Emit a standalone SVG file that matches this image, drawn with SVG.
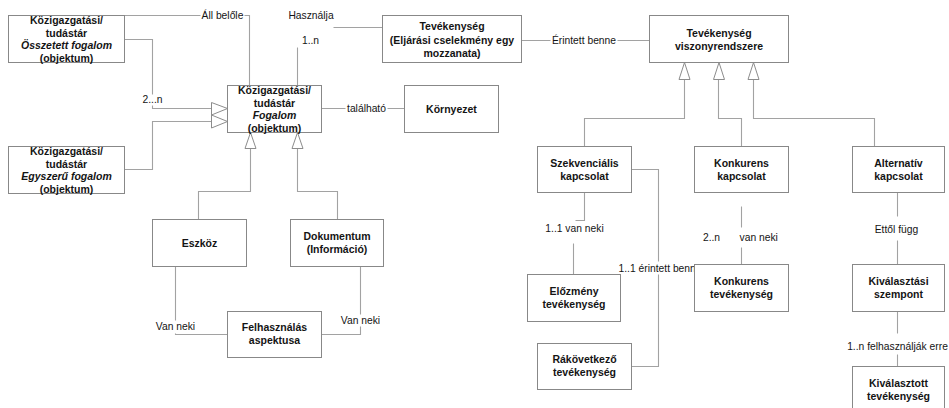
<svg xmlns="http://www.w3.org/2000/svg" width="949" height="408" viewBox="0 0 949 408">
  <defs>
    <style>
      .box { fill: #ffffff; stroke: #888888; stroke-width: 1; }
      .ln { fill: none; stroke: #a2a2a2; stroke-width: 1.1; }
      .tri { fill: #ffffff; stroke: #8c8c8c; stroke-width: 1; }
      .bg { fill: #ffffff; stroke: none; }
      text { font-family: "Liberation Sans", Arial, Helvetica, sans-serif; fill: #141414; }
      .nt { font-size: 10.5px; font-weight: bold; text-anchor: middle; }
      .it { font-style: italic; }
      .lb { font-size: 10.3px; text-anchor: middle; }
      .ls { font-size: 10.3px; text-anchor: start; }
    </style>
  </defs>
  <rect x="0" y="0" width="949" height="408" fill="#ffffff"/>
  <g transform="translate(0.5 0.5)">
    <!-- connectors -->
    <g id="connectors">
      <!-- composite concept consists of concepts -->
      <path class="ln" d="M124,15 H249 V85"/>
      <rect class="bg" x="200" y="9" width="44" height="13"/>
      <text class="lb" x="222" y="18.5">Áll belőle</text>

      <!-- generalisations into Fogalom (from the left) -->
      <path class="ln" d="M124,39 H152 V108 H211"/>
      <path class="ln" d="M124,169 H152 V121 H211"/>
      <polygon class="tri" points="211,102 227,108 211,114.5"/>
      <polygon class="tri" points="211,114.5 227,121 211,127.5"/>
      <rect class="bg" x="140" y="94" width="24" height="11"/>
      <text class="lb" x="152" y="102.5">2...n</text>

      <!-- Fogalom uses Tevékenység -->
      <path class="ln" d="M297,47 V85"/>
      <path class="ln" d="M333,27 H382"/>
      <text class="lb" x="310.5" y="18.5">Használja</text>
      <text class="lb" x="310" y="43.5">1..n</text>

      <!-- Fogalom located in Környezet -->
      <path class="ln" d="M321,108 H404"/>
      <rect class="bg" x="345" y="102" width="42" height="12"/>
      <text class="lb" x="366" y="111.5">található</text>

      <!-- Tevékenység related to its relation system -->
      <path class="ln" d="M521,40 H649"/>
      <rect class="bg" x="550" y="34" width="67" height="12"/>
      <text class="lb" x="583.5" y="43.5">Érintett benne</text>

      <!-- Eszköz / Dokumentum generalise Fogalom -->
      <path class="ln" d="M198,219 V191 H250 V148"/>
      <path class="ln" d="M337,219 V191 H297 V148"/>
      <polygon class="tri" points="250,132 255.5,148 244.5,148"/>
      <polygon class="tri" points="297,132 302.5,148 291.5,148"/>

      <!-- usage aspect -->
      <path class="ln" d="M175,266 V334 H227"/>
      <path class="ln" d="M360,266 V334 H321"/>
      <rect class="bg" x="153" y="320" width="44" height="13"/>
      <text class="lb" x="175" y="329.5">Van neki</text>
      <rect class="bg" x="338" y="314" width="44" height="12"/>
      <text class="lb" x="360" y="323.5">Van neki</text>

      <!-- relation kinds generalise the relation system -->
      <path class="ln" d="M584,146 V118 H684 V79"/>
      <path class="ln" d="M741,146 V118 H718 V79"/>
      <path class="ln" d="M874,146 V118 H753 V79"/>
      <polygon class="tri" points="684,62 689.5,79 678.5,79"/>
      <polygon class="tri" points="718.5,62 724,79 713,79"/>
      <polygon class="tri" points="753,62 758.5,79 747.5,79"/>

      <!-- sequential: predecessor -->
      <path class="ln" d="M584,192 V220 H575"/>
      <path class="ln" d="M573,243 V274"/>
      <text class="lb" x="574" y="231.5">1..1 van neki</text>

      <!-- sequential: successor -->
      <path class="ln" d="M631,169 H658 V366 H631"/>
      <rect class="bg" x="617" y="261" width="77" height="13"/>
      <text class="ls" x="618" y="271.5">1..1 érintett benn</text>

      <!-- concurrent activity -->
      <path class="ln" d="M741,206 V227"/>
      <path class="ln" d="M741,247 V264"/>
      <text class="lb" x="711" y="240.5">2..n</text>
      <text class="ls" x="739" y="240.5">van neki</text>

      <!-- alternative: selection criterion -->
      <path class="ln" d="M897,192 V216"/>
      <path class="ln" d="M897,240 V264"/>
      <text class="lb" x="896" y="232">Ettől függ</text>

      <!-- selection criterion: selected activity -->
      <path class="ln" d="M897,311 V333"/>
      <path class="ln" d="M897,354 V366"/>
      <text class="lb" x="897" y="349.5">1..n felhasználják erre</text>
    </g>

    <!-- nodes -->
    <g id="osszetett-fogalom">
      <rect class="box" x="8" y="15" width="116" height="47"/>
      <text class="nt" x="66" y="23.5">Közigazgatási/</text>
      <text class="nt" x="66" y="36">tudástár</text>
      <text class="nt it" x="66" y="48.5">Összetett fogalom</text>
      <text class="nt" x="66" y="61">(objektum)</text>
    </g>
    <g id="egyszeru-fogalom">
      <rect class="box" x="8" y="146" width="116" height="47"/>
      <text class="nt" x="66" y="154.5">Közigazgatási/</text>
      <text class="nt" x="66" y="167">tudástár</text>
      <text class="nt it" x="66" y="179.5">Egyszerű fogalom</text>
      <text class="nt" x="66" y="192">(objektum)</text>
    </g>
    <g id="fogalom">
      <rect class="box" x="227" y="85" width="94" height="47"/>
      <text class="nt" x="274" y="93.5">Közigazgatási/</text>
      <text class="nt" x="274" y="106">tudástár</text>
      <text class="nt it" x="274" y="118.5">Fogalom</text>
      <text class="nt" x="274" y="131">(objektum)</text>
    </g>
    <g id="kornyezet">
      <rect class="box" x="404" y="85" width="94" height="47"/>
      <text class="nt" x="451" y="112">Környezet</text>
    </g>
    <g id="tevekenyseg">
      <rect class="box" x="382" y="15" width="139" height="47"/>
      <text class="nt" x="451.5" y="29.5">Tevékenység</text>
      <text class="nt" x="451.5" y="43">(Eljárási cselekmény egy</text>
      <text class="nt" x="451.5" y="56.5">mozzanata)</text>
    </g>
    <g id="viszonyrendszer">
      <rect class="box" x="649" y="15" width="139" height="47"/>
      <text class="nt" x="718.5" y="36.5">Tevékenység</text>
      <text class="nt" x="718.5" y="49">viszonyrendszere</text>
    </g>
    <g id="eszkoz">
      <rect class="box" x="152" y="219" width="94" height="47"/>
      <text class="nt" x="199" y="246">Eszköz</text>
    </g>
    <g id="dokumentum">
      <rect class="box" x="290" y="219" width="93" height="47"/>
      <text class="nt" x="336.5" y="239">Dokumentum</text>
      <text class="nt" x="336.5" y="252">(Információ)</text>
    </g>
    <g id="felhasznalas">
      <rect class="box" x="227" y="311" width="94" height="46"/>
      <text class="nt" x="274" y="330.5">Felhasználás</text>
      <text class="nt" x="274" y="343.5">aspektusa</text>
    </g>
    <g id="szekvencialis">
      <rect class="box" x="537" y="146" width="94" height="46"/>
      <text class="nt" x="584" y="166">Szekvenciális</text>
      <text class="nt" x="584" y="179">kapcsolat</text>
    </g>
    <g id="konkurens-kapcsolat">
      <rect class="box" x="694" y="146" width="94" height="46"/>
      <text class="nt" x="741" y="166">Konkurens</text>
      <text class="nt" x="741" y="179">kapcsolat</text>
    </g>
    <g id="alternativ">
      <rect class="box" x="852" y="146" width="92" height="46"/>
      <text class="nt" x="898" y="166">Alternatív</text>
      <text class="nt" x="898" y="179">kapcsolat</text>
    </g>
    <g id="elozmeny">
      <rect class="box" x="527" y="274" width="93" height="47"/>
      <text class="nt" x="573.5" y="294.5">Előzmény</text>
      <text class="nt" x="573.5" y="307.5">tevékenység</text>
    </g>
    <g id="rakovetkezo">
      <rect class="box" x="537" y="343" width="94" height="46"/>
      <text class="nt" x="584" y="362.5">Rákövetkező</text>
      <text class="nt" x="584" y="375.5">tevékenység</text>
    </g>
    <g id="konkurens-tevekenyseg">
      <rect class="box" x="694" y="264" width="94" height="47"/>
      <text class="nt" x="741" y="284.5">Konkurens</text>
      <text class="nt" x="741" y="297.5">tevékenység</text>
    </g>
    <g id="kivalasztasi-szempont">
      <rect class="box" x="852" y="264" width="92" height="47"/>
      <text class="nt" x="898" y="284.5">Kiválasztási</text>
      <text class="nt" x="898" y="297.5">szempont</text>
    </g>
    <g id="kivalasztott">
      <rect class="box" x="852" y="366" width="92" height="50"/>
      <text class="nt" x="898" y="386.5">Kiválasztott</text>
      <text class="nt" x="898" y="399.5">tevékenység</text>
    </g>
  </g>
</svg>
